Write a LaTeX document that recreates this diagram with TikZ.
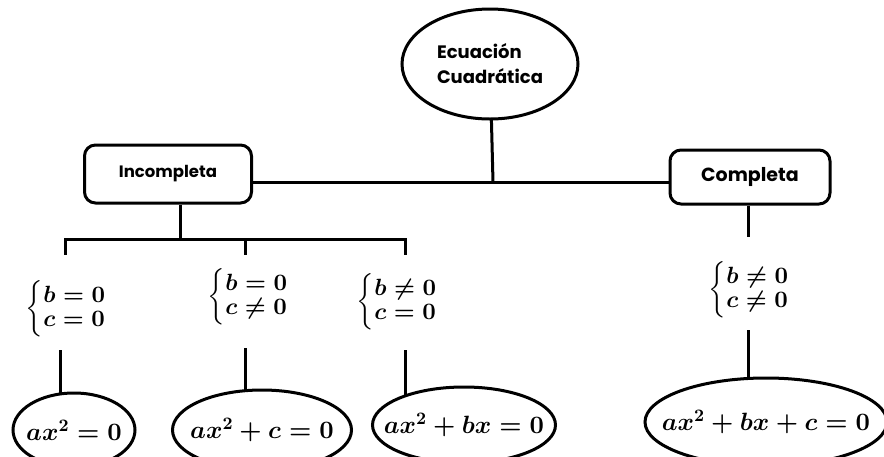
\documentclass[tikz,border=0pt]{standalone}
\usepackage[no-math]{fontspec}
\setmainfont{Poppins}
\DeclareFontShape{OML}{cmm}{m}{it}{<->cmmi10}{}
\DeclareFontShape{OML}{cmm}{b}{it}{<->cmmib10}{}
\DeclareFontShape{OMS}{cmsy}{m}{n}{<->cmsy10}{}
\DeclareFontShape{OMS}{cmsy}{b}{n}{<->cmbsy10}{}
\DeclareFontShape{OMX}{cmex}{m}{n}{<->cmex10}{}
\DeclareFontShape{OT1}{cmr}{bx}{n}{<->cmbx10}{}
\DeclareFontShape{OT1}{cmr}{m}{n}{<->cmr10}{}
\usetikzlibrary{backgrounds}
\newcommand{\condpair}[2]{$\left\{\begin{array}{@{}l@{}}#1\\[-2pt]#2\end{array}\right.$}
\begin{document}
\begin{tikzpicture}[x=1pt,y=1pt,
  conn/.style={line width=3pt},
  oval/.style={draw,line width=3pt,fill=white},
  lbl/.style={inner sep=0pt},
  eqn/.style={inner sep=0pt,font=\fontsize{25}{30}\selectfont\boldmath},
  cnd/.style={inner sep=0pt,font=\fontsize{23.5}{26}\selectfont\boldmath},
  rbox/.style={draw,line width=3pt,rounded corners=11pt,fill=white,inner sep=0pt,
     font=\bfseries}]
\useasboundingbox (0,0) rectangle (884,-456);

% top node
\node[lbl,align=left,font=\fontsize{18}{25}\selectfont\bfseries] (top) at (490,-64) {Ecuación\\Cuadrática};

% second level
\node[rbox,minimum width=167,minimum height=58,font=\fontsize{16.5}{20}\selectfont\bfseries] (inc) at (168,-174) {Incompleta};
\node[rbox,minimum width=160,minimum height=54,font=\fontsize{19}{22}\selectfont\bfseries] (comp) at (750,-177) {Completa};

% junctions
\coordinate (j0) at (493,-182);
\coordinate (jl) at (180,-239);
\coordinate (b1) at (65,-239);
\coordinate (b2) at (245,-239);
\coordinate (b3) at (405,-239);
\coordinate (t1) at (65,-255);
\coordinate (t2) at (245,-255);
\coordinate (t3) at (405,-255);
\coordinate (l4) at (748,-237);

% conditions
\node[cnd] (c1) at (66,-309) {\condpair{b=0}{c=0}};
\node[cnd] (c2) at (248,-297) {\condpair{b=0}{c\neq 0}};
\node[cnd] (c3) at (397,-302) {\condpair{b\neq 0}{c=0}};
\node[cnd] (c4) at (749,-290) {\condpair{b\neq 0}{c\neq 0}};

\coordinate (s1) at (60,-350);
\coordinate (s2) at (245,-348);
\coordinate (s3) at (405,-350);
\coordinate (s4) at (748,-330);

% results
\node[eqn] (e1) at (74,-430) {$ax^2=0$};
\node[eqn] (e2) at (262,-430) {$ax^2+c=0$};
\node[eqn] (e3) at (464,-425) {$ax^2+bx=0$};
\node[eqn] (e4) at (766,-422) {$ax^2+bx+c=0$};

\begin{scope}[on background layer]
\fill[white] (0,0) rectangle (884,-456);
\draw[conn] (top) -- (j0);
\draw[conn] (inc.east |- j0) -- (comp.west |- j0);
\draw[conn] (inc.south -| jl) -- (jl);
\draw[conn,line cap=rect] (b1) -- (b3);
\draw[conn] (b1) -- (t1);
\draw[conn] (b2) -- (t2);
\draw[conn] (b3) -- (t3);
\draw[conn] (comp.south -| l4) -- (l4);
\draw[conn] (s1) -- (s1 |- e1.center);
\draw[conn] (s2) -- (s2 |- e2.center);
\draw[conn] (s3) -- (s3 |- e3.center);
\draw[conn] (s4) -- (s4 |- e4.center);
\draw[oval] (top.center) ellipse [x radius=88, y radius=55];
\draw[oval] (e1.center) ellipse [x radius=61, y radius=37];
\draw[oval] (e2.center) ellipse [x radius=89.5, y radius=40];
\draw[oval] (e3.center) ellipse [x radius=91.5, y radius=38];
\draw[oval] (e4.center) ellipse [x radius=121, y radius=44];
\end{scope}
\end{tikzpicture}
\end{document}
